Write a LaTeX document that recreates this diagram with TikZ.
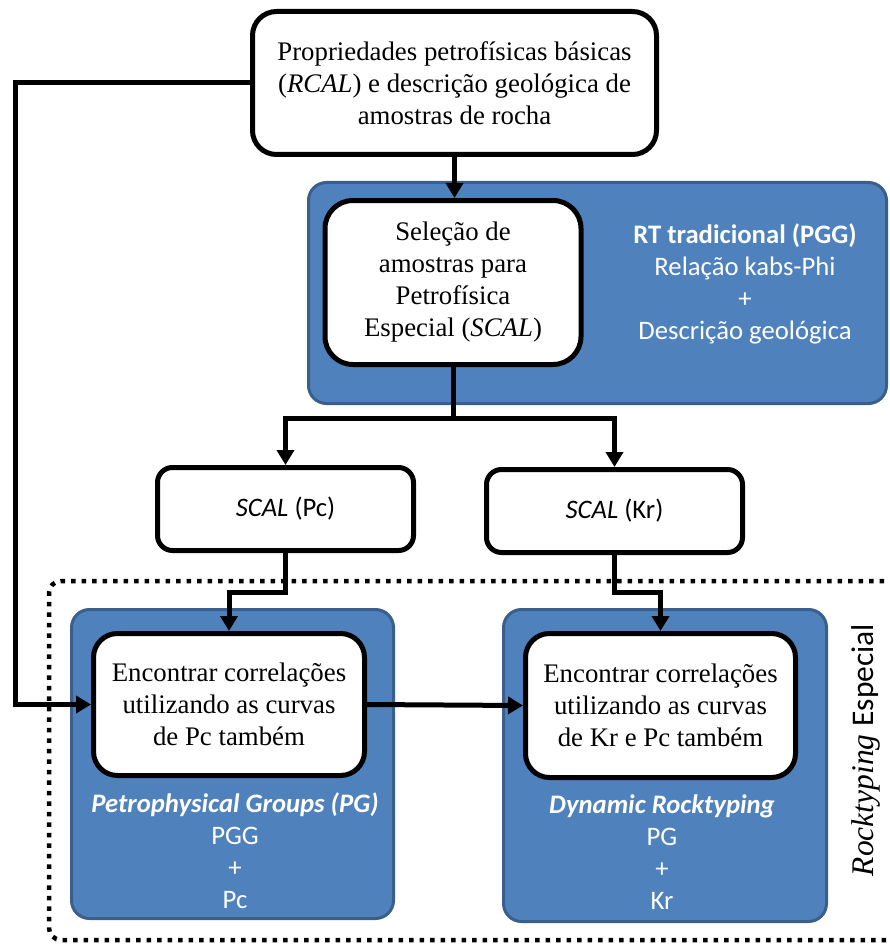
\documentclass[tikz,border=0pt]{standalone}
\usepackage{fontspec}
\setmainfont{Liberation Serif}
\setsansfont{Carlito}
\usetikzlibrary{arrows.meta}
\definecolor{boxblue}{HTML}{4F81BD}
\definecolor{boxedge}{HTML}{3A5F8C}
\newcommand\serifbig{\fontsize{26.8}{32}\selectfont}
\newcommand\sansbig{\sffamily\fontsize{26.7}{32}\selectfont}
\tikzset{
  wbox/.style={draw=black, line width=5pt, fill=white, rounded corners=24pt,
    align=center, font=\serifbig, inner sep=0pt},
  sbox/.style={wbox, rounded corners=15pt, font=\sansbig},
  bbox/.style={draw=boxedge, line width=3pt, fill=boxblue, rounded corners=18pt, inner sep=0pt},
  btext/.style={text=white, align=center, font=\sansbig, inner sep=0pt},
  conn/.style={line width=5pt, -{Triangle[length=15pt,width=17pt]}},
  link/.style={line width=5pt},
  frame/.style={line width=4.5pt, dash pattern=on 4.5pt off 6pt, rounded corners=12pt},
}
\begin{document}
\begin{tikzpicture}[x=1pt,y=1pt]
\useasboundingbox (0,0) rectangle (889,-944);
\begin{scope}
\clip (0,0) rectangle (889,-944);

% dotted frame of the special rocktyping group
\draw[frame] (905,-581) -- (49,-581) -- (49,-940) -- (905,-940);

% blue background panels
\node[bbox, minimum width=578, minimum height=221] (rtpanel) at (597.5,-293) {};
\node[bbox, minimum width=322, minimum height=309] (pgpanel) at (232.5,-764) {};
\node[bbox, minimum width=323, minimum height=312] (drpanel) at (665,-765.5) {};

% panel captions
\node[btext] (rttext) at (745,-284) {\textbf{RT tradicional (PGG)}\\Relação kabs-Phi\\+\\Descrição geológica};
\node[btext] (pgtext) at (235,-851) {\textbf{\textit{Petrophysical Groups (PG)}}\\PGG\\+\\Pc};
\node[btext] (drtext) at (662,-852) {\textbf{\textit{Dynamic Rocktyping}}\\PG\\+\\Kr};

% process boxes
\node[wbox, minimum width=404, minimum height=143] (top) at (454.5,-83)
  {Propriedades petrofísicas básicas\\(\textit{RCAL}) e descrição geológica de\\amostras de rocha};
\node[wbox, minimum width=256, minimum height=164, rounded corners=28pt] (sel) at (453,-282.5)
  {Seleção de\\amostras para\\Petrofísica\\Especial (\textit{SCAL})};
\node[sbox, minimum width=256, minimum height=83] (scpc) at (285.5,-509) {\textit{SCAL} (Pc)};
\node[sbox, minimum width=256, minimum height=83] (sckr) at (614.5,-511) {\textit{SCAL} (Kr)};
\node[wbox, minimum width=271, minimum height=142] (enc1) at (229,-704.5)
  {Encontrar correlações\\utilizando as curvas\\de Pc também};
\node[wbox, minimum width=270, minimum height=144] (enc2) at (660.5,-705.5)
  {Encontrar correlações\\utilizando as curvas\\de Kr e Pc também};

% side label
\node[rotate=90, inner sep=0pt] (side) at (866,-750)
  {\fontsize{31.5}{36}\selectfont\textit{Rocktyping} \sffamily Especial};

% connectors
\draw[conn] (top.south) -- (top.south |- sel.north);
\draw[link] (sel.south) -- ++(0,-51) coordinate (split);
\draw[conn] (split) -| (scpc.north);
\draw[conn] (split) -| (sckr.north);
\draw[conn] (scpc.south) -- ++(0,-39) -| (enc1.north);
\draw[conn] (sckr.south) -- ++(0,-37) -| (enc2.north);
\draw[conn] (top.west) -- ++(-235,0) |- (enc1.west);
\draw[conn] (enc1.east) -- (enc2.west);
\end{scope}
\end{tikzpicture}
\end{document}
